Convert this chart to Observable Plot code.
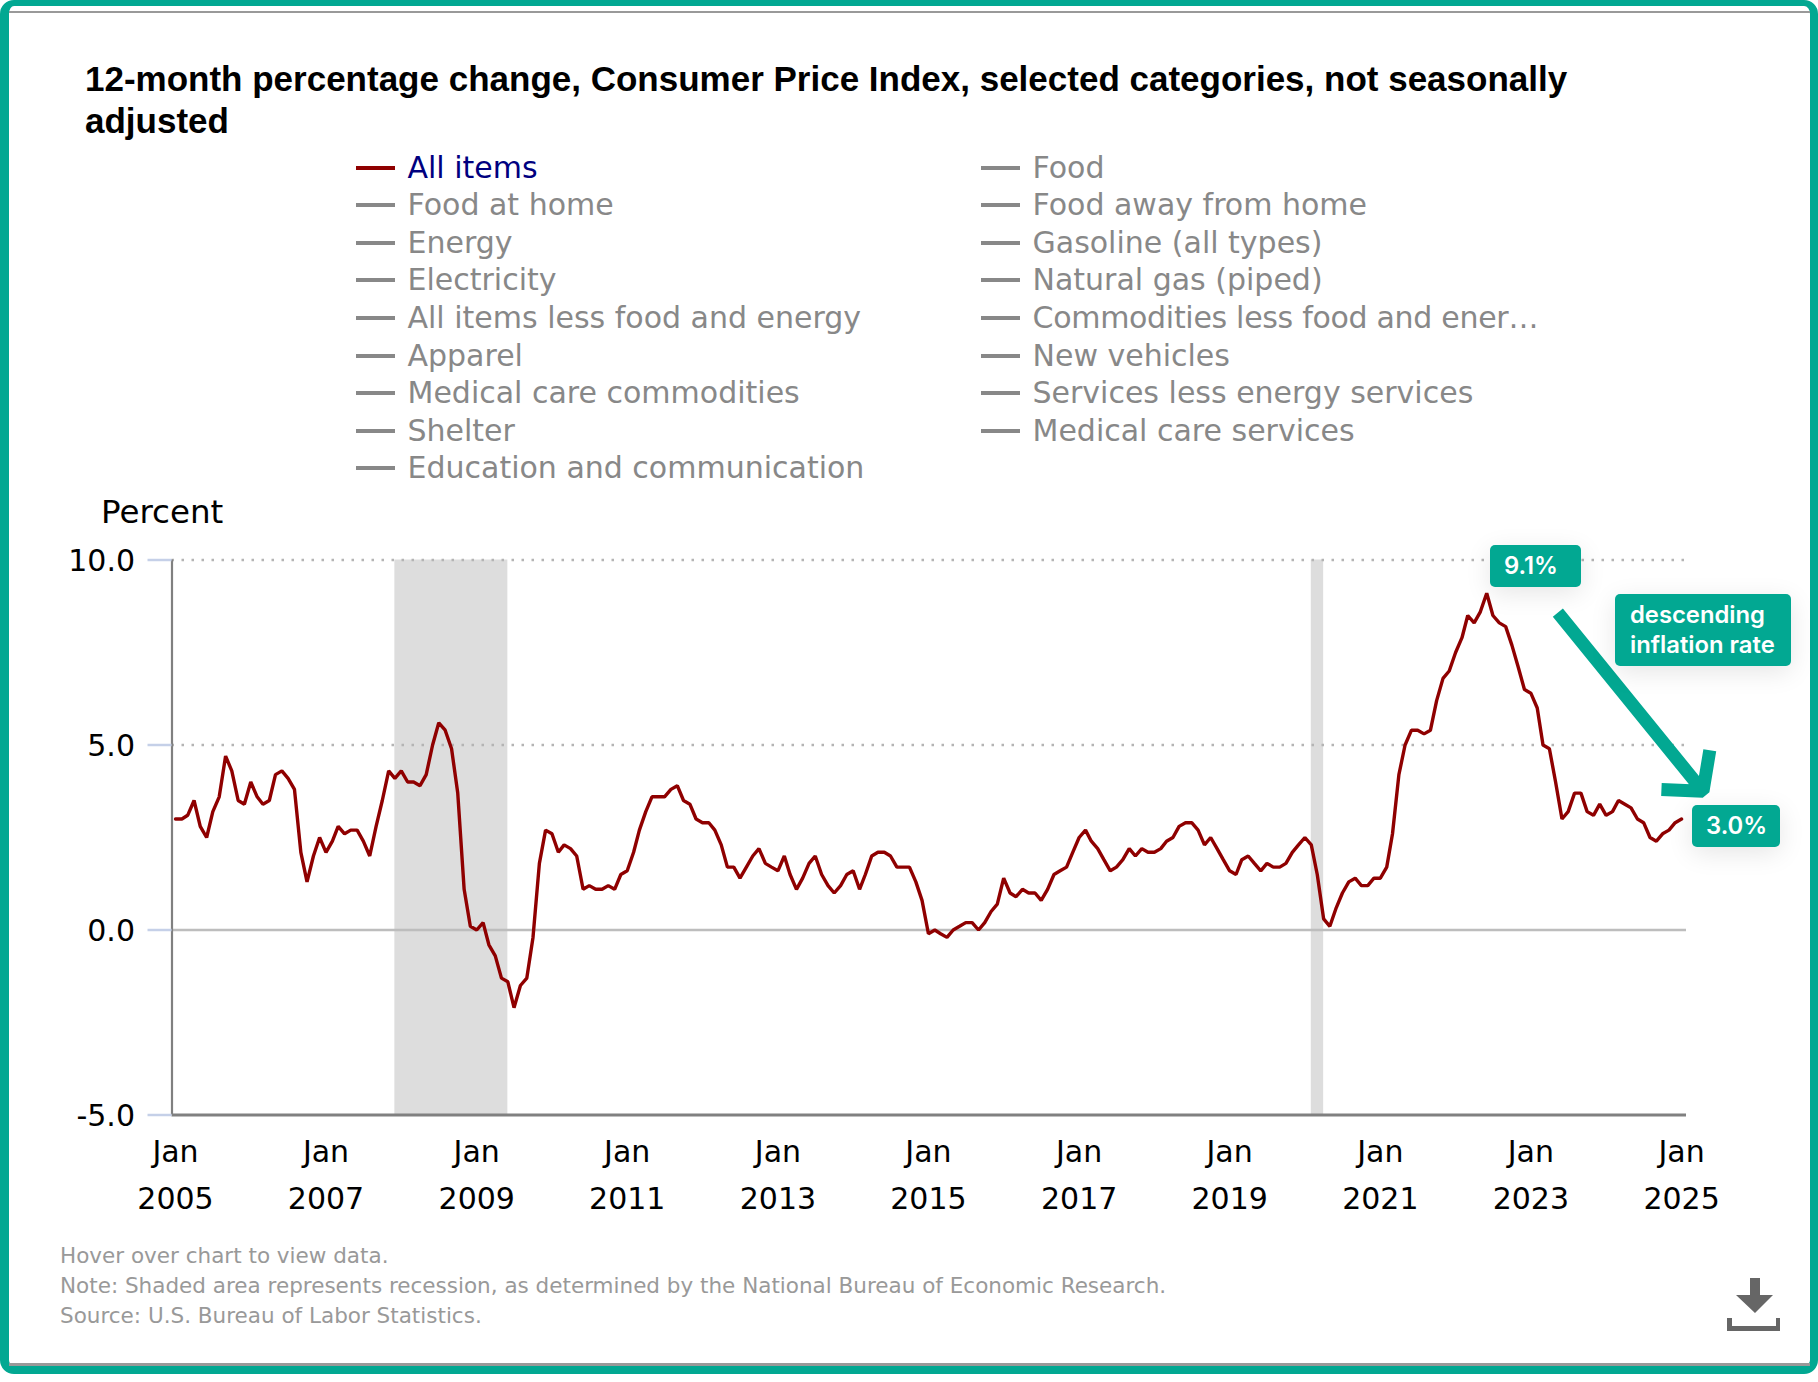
<!DOCTYPE html>
<html>
<head>
<meta charset="utf-8">
<script src="https://cdn.jsdelivr.net/npm/d3@7"></script>
<script src="https://cdn.jsdelivr.net/npm/@observablehq/plot@0.6"></script>
<style>
html,body{margin:0;padding:0;background:#fff;}
#page{position:relative;width:1818px;height:1382px;overflow:hidden;font-family:"DejaVu Sans",sans-serif;}
#frame{position:absolute;left:0;top:0;width:1818px;height:1374px;box-sizing:border-box;border:solid #02a892;border-width:6px 8px 8px 9px;border-radius:14px;}
#inner{position:absolute;left:9px;right:8px;top:11px;bottom:16px;border-top:2px solid #999;border-bottom:3px solid #999;}
#title{position:absolute;left:85px;top:58px;width:1600px;font:bold 35px/42px "Liberation Sans",Arial,sans-serif;color:#000;}
.lg{position:absolute;height:36px;line-height:36px;font-size:30px;color:#888;white-space:nowrap;}
.sw{position:absolute;width:39px;height:4px;background:#888;}
#percent{position:absolute;left:101px;top:491px;font-size:32.5px;line-height:42px;color:#000;}
#chart{position:absolute;left:0;top:480px;}
#foot{position:absolute;left:60px;top:1241px;font-size:21.5px;line-height:30px;color:#999;white-space:nowrap;}
.call{position:absolute;background:#02a892;color:#fff;border-radius:5px;font-family:Inter,sans-serif;font-weight:600;font-size:23.8px;box-shadow:0 6px 26px rgba(0,0,0,.10);box-sizing:border-box;}
</style>
</head>
<body>
<div id="page">
  <div id="frame"></div>
  <div id="inner"></div>
  <div id="title"></div>
  <div id="legend"></div>
  <div id="percent"></div>
  <div id="chart"></div>
  <div class="call" style="left:1490px;top:545px;width:91px;height:42px;line-height:42px;padding-left:14px;">9.1%</div>
  <div class="call" style="left:1615px;top:594px;width:176px;height:72px;line-height:30px;padding:6px 0 0 15px;">descending<br>inflation rate</div>
  <div class="call" style="left:1692px;top:805px;width:88px;height:42px;line-height:42px;padding-left:14px;">3.0%</div>
  <div id="foot"></div>
  <svg style="position:absolute;left:1723px;top:1275px" width="60" height="60"><g fill="#666"><polygon points="27,3 37,3 37,20 50,20 32,38 13,20 27,20"/><polygon points="4,43 9,43 9,51 53,51 53,43 57,43 57,56 4,56"/></g></svg>
</div>
<script>
const titleText = "12-month percentage change, Consumer Price Index, selected categories, not seasonally adjusted";
const legendColumn1 = ["All items","Food at home","Energy","Electricity","All items less food and energy","Apparel","Medical care commodities","Shelter","Education and communication"];
const legendColumn2 = ["Food","Food away from home","Gasoline (all types)","Natural gas (piped)","Commodities less food and ener…","New vehicles","Services less energy services","Medical care services"];
const footLines = ["Hover over chart to view data.","Note: Shaded area represents recession, as determined by the National Bureau of Economic Research.","Source: U.S. Bureau of Labor Statistics."];
const axisTitle = "Percent";
const yTicks = [-5,0,5,10];
const xTickYears = [2005,2007,2009,2011,2013,2015,2017,2019,2021,2023,2025];
const firstYear = 2005;
const allItems = [
 3.0,3.0,3.1,3.5,2.8,2.5,3.2,3.6,4.7,4.3,3.5,3.4,
 4.0,3.6,3.4,3.5,4.2,4.3,4.1,3.8,2.1,1.3,2.0,2.5,
 2.1,2.4,2.8,2.6,2.7,2.7,2.4,2.0,2.8,3.5,4.3,4.1,
 4.3,4.0,4.0,3.9,4.2,5.0,5.6,5.4,4.9,3.7,1.1,0.1,
 0.0,0.2,-0.4,-0.7,-1.3,-1.4,-2.1,-1.5,-1.3,-0.2,1.8,2.7,
 2.6,2.1,2.3,2.2,2.0,1.1,1.2,1.1,1.1,1.2,1.1,1.5,
 1.6,2.1,2.7,3.2,3.6,3.6,3.6,3.8,3.9,3.5,3.4,3.0,
 2.9,2.9,2.7,2.3,1.7,1.7,1.4,1.7,2.0,2.2,1.8,1.7,
 1.6,2.0,1.5,1.1,1.4,1.8,2.0,1.5,1.2,1.0,1.2,1.5,
 1.6,1.1,1.5,2.0,2.1,2.1,2.0,1.7,1.7,1.7,1.3,0.8,
 -0.1,0.0,-0.1,-0.2,0.0,0.1,0.2,0.2,0.0,0.2,0.5,0.7,
 1.4,1.0,0.9,1.1,1.0,1.0,0.8,1.1,1.5,1.6,1.7,2.1,
 2.5,2.7,2.4,2.2,1.9,1.6,1.7,1.9,2.2,2.0,2.2,2.1,
 2.1,2.2,2.4,2.5,2.8,2.9,2.9,2.7,2.3,2.5,2.2,1.9,
 1.6,1.5,1.9,2.0,1.8,1.6,1.8,1.7,1.7,1.8,2.1,2.3,
 2.5,2.3,1.5,0.3,0.1,0.6,1.0,1.3,1.4,1.2,1.2,1.4,
 1.4,1.7,2.6,4.2,5.0,5.4,5.4,5.3,5.4,6.2,6.8,7.0,
 7.5,7.9,8.5,8.3,8.6,9.1,8.5,8.3,8.2,7.7,7.1,6.5,
 6.4,6.0,5.0,4.9,4.0,3.0,3.2,3.7,3.7,3.2,3.1,3.4,
 3.1,3.2,3.5,3.4,3.3,3.0,2.9,2.5,2.4,2.6,2.7,2.9,
 3.0];
const recessionStarts = ["2007-12-01","2020-02-01"];
const recessionEnds = ["2009-06-01","2020-04-01"];
const arrowStart = ["2023-05-12",8.58];
const arrowEnd = ["2025-04-15",3.75];

const rows = allItems.map((v,i)=>({date:new Date(Date.UTC(firstYear,i,1)),value:v}));
const recessions = recessionStarts.map((s,i)=>({x1:new Date(s),x2:new Date(recessionEnds[i])}));
const tickDates = xTickYears.map(y=>new Date(Date.UTC(y,0,1)));
const xDomain = [new Date("2004-12-15"),new Date("2025-01-25")];

document.getElementById("title").textContent = titleText;
document.getElementById("percent").textContent = axisTitle;
document.getElementById("foot").innerHTML = footLines.join("<br>");
const lg = document.getElementById("legend");
const legendY = i => 167.5 + i*37.6;
function addLegend(items,swX,txtX){
  items.forEach((t,i)=>{
    const y = legendY(i);
    const sw = document.createElement("div"); sw.className="sw";
    sw.style.left=swX+"px"; sw.style.top=Math.round(y-2)+"px";
    const tx = document.createElement("div"); tx.className="lg";
    tx.style.left=txtX+"px"; tx.style.top=Math.round(y-18)+"px"; tx.textContent=t;
    if(t==="All items"){ sw.style.background="#8f0000"; tx.style.color="#00007f"; }
    if(t.endsWith("…")){ tx.style.letterSpacing="-0.3px"; }
    lg.append(sw,tx);
  });
}
addLegend(legendColumn1,356,407.5);
addLegend(legendColumn2,981,1032.5);

const chart = Plot.plot({
  width:1818, height:760,
  marginLeft:171.5, marginRight:132, marginTop:79.5, marginBottom:125.5,
  style:{fontFamily:"'DejaVu Sans',sans-serif",fontSize:"30px",color:"#000",background:"transparent"},
  x:{type:"utc",domain:xDomain},
  y:{domain:[-5,10]},
  marks:[
    Plot.rect(recessions,{x1:"x1",x2:"x2",y1:()=>-5,y2:()=>10,fill:"#dddddd"}),
    Plot.ruleY([5,10],{stroke:"#b4b4b4",strokeWidth:2.5,strokeDasharray:"2.5,7.5"}),
    Plot.ruleY([0],{stroke:"#bdbdbd",strokeWidth:2.5}),
    Plot.line(rows,{x:"date",y:"value",stroke:"#8f0000",strokeWidth:3.4,strokeLinejoin:"miter"}),
    Plot.ruleX([xDomain[0]],{stroke:"#808080",strokeWidth:2.2}),
    Plot.ruleY([-5],{stroke:"#808080",strokeWidth:3}),
    Plot.arrow([{}],{x1:()=>new Date(arrowStart[0]),y1:()=>arrowStart[1],x2:()=>new Date(arrowEnd[0]),y2:()=>arrowEnd[1],
      stroke:"#02a892",strokeWidth:13,headLength:4.8,headAngle:97,strokeLinejoin:"miter",strokeLinecap:"butt"}),
    Plot.axisY(yTicks,{anchor:"left",tickSize:24,tickFormat:()=>"",label:null,stroke:"#c5d0e8",strokeWidth:2.5}),
    Plot.axisY(yTicks,{anchor:"left",tickSize:0,tickPadding:37,dy:1.5,tickFormat:d=>d.toFixed(1),label:null,fill:"#000"}),
    Plot.axisX(tickDates,{anchor:"bottom",tickSize:0,tickPadding:14,lineHeight:1.56,tickFormat:d=>"Jan\n"+d.getUTCFullYear(),label:null,fill:"#000"})
  ]
});
document.getElementById("chart").append(chart);
</script>
</body>
</html>
